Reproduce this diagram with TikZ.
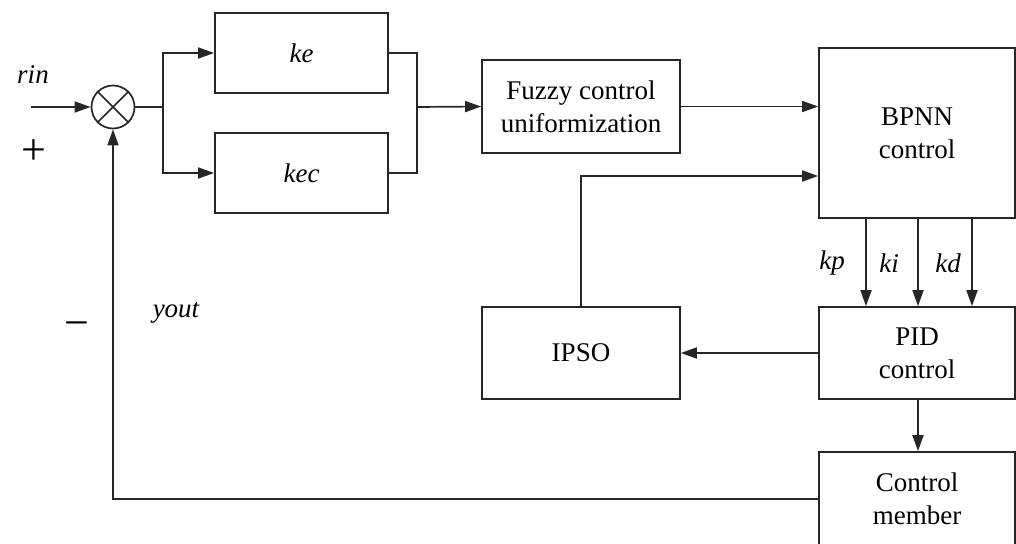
\documentclass[tikz,border=0pt]{standalone}
\usepackage{fontspec}
\setmainfont{Liberation Serif}
\usetikzlibrary{arrows.meta,calc}
\begin{document}
\begin{tikzpicture}[x=1pt,y=-1pt,
  every node/.style={font=\fontsize{27}{33}\selectfont},
  blk/.style={draw=black!85, line width=1.7pt, rectangle, inner sep=0pt, align=center},
  ln/.style={draw=black!85, line width=1.7pt},
  arr/.style={draw=black!85, line width=1.7pt, -{Triangle[length=16pt,width=11pt]}},
  lbl/.style={font=\fontsize{27}{33}\selectfont\itshape, inner sep=0pt},
  sgn/.style={font=\fontsize{44}{44}\selectfont, inner sep=0pt}]
\useasboundingbox (0,0) rectangle (1016,543);
\clip (0,0) rectangle (1016,543);
% nodes
\node[draw=black!85, circle, line width=1.7pt, minimum size=43pt, inner sep=0pt] (sum) at (113,107) {};
\draw[ln] (sum.45) -- (sum.225);
\draw[ln] (sum.135) -- (sum.315);
\node[blk, minimum width=173pt, minimum height=80pt, font=\fontsize{27}{33}\selectfont\itshape] (ke) at (301.5,53) {ke};
\node[blk, minimum width=173pt, minimum height=80pt, font=\fontsize{27}{33}\selectfont\itshape] (kec) at (301.5,173) {kec};
\node[blk, minimum width=198pt, minimum height=93pt] (fuzzy) at (581,106.5) {Fuzzy control\\uniformization};
\node[blk, minimum width=196pt, minimum height=170pt] (bpnn) at (917,133) {BPNN\\control};
\node[blk, minimum width=196pt, minimum height=92pt] (pid) at (917,353) {PID\\control};
\node[blk, minimum width=198pt, minimum height=92pt] (ipso) at (581,353) {IPSO};
\node[blk, minimum width=196pt, minimum height=94pt] (cm) at (917,499) {Control\\member};
% labels
\node[lbl] (rin) at (33,75) {rin};
\node[sgn] (plus) at (34,152) {+};
\node[sgn] (minus) at (77,330) {−};
\node[lbl] (yout) at (176,313) {yout};
\node[lbl] (kp) at (832,263) {kp};
\node[lbl] (ki) at (889,263) {ki};
\node[lbl] (kd) at (948,263) {kd};
% coordinates
\coordinate (in) at (31,107);
\coordinate (br) at (163,107);
\coordinate (mg) at (417,107);
\coordinate (kpx) at (866,0);
\coordinate (kix) at (918,0);
\coordinate (kdx) at (972,0);
% connectors
\draw[arr] (in) -- (sum);
\draw[ln] (sum) -- (br);
\draw[arr] (br) |- (ke.west);
\draw[arr] (br) |- (kec.west);
\draw[ln] (ke.east) -| (mg);
\draw[ln] (kec.east) -| (mg);
\draw[arr] (mg) -- (fuzzy.west);
\draw[arr] (fuzzy.east) -- (fuzzy.east -| bpnn.west);
\draw[arr] (ipso.north) |- ([yshift=-43pt]bpnn.west);
\draw[arr] (bpnn.south -| kpx) -- (pid.north -| kpx);
\draw[arr] (bpnn.south -| kix) -- (pid.north -| kix);
\draw[arr] (bpnn.south -| kdx) -- (pid.north -| kdx);
\draw[arr] (pid) -- (ipso);
\draw[arr] (pid.south -| kix) -- (cm.north -| kix);
\draw[arr] (cm.west) -| (sum.south);
\end{tikzpicture}
\end{document}
